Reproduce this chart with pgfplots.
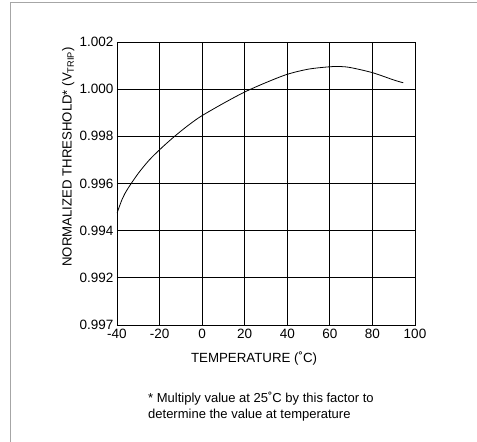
\documentclass[border=0pt]{standalone}
\usepackage{fontspec}
\setmainfont{Liberation Sans}
\usepackage{pgfplots}
\pgfplotsset{compat=1.18}
\begin{document}
\begin{tikzpicture}[x=1pt,y=1pt]
\useasboundingbox (0,0) rectangle (477,442);
% outer frame (top and left edges only are visible)
\draw[gray!70, line width=1pt] (10,0) -- (10,439) -- (477,439);
\begin{axis}[
  at={(117pt,117pt)}, anchor=south west,
  scale only axis, width=298pt, height=283pt,
  xmin=-40, xmax=100, ymin=0.990, ymax=1.002,
  xtick={-40,-20,0,20,40,60,80,100},
  xticklabels={-40,-20,0,20,40,60,80,100},
  ytick={0.990,0.992,0.994,0.996,0.998,1.000,1.002},
  yticklabels={0.997,0.992,0.994,0.996,0.998,1.000,1.002},
  grid=major, major grid style={black, line width=0.8pt},
  axis line style={black, line width=0.8pt},
  major tick length=0pt,
  tick label style={font=\fontsize{13.5}{15}\selectfont},
  xticklabel style={yshift=-1pt},
  xlabel={TEMPERATURE (˚C)},
  xlabel style={at={(axis description cs:0.46,-0.117)}, anchor=center, font=\fontsize{13.3}{15}\selectfont},
  ylabel={NORMALIZED THRESHOLD* (V\textsubscript{TRIP})},
  ylabel style={at={(axis description cs:-0.164,0.594)}, anchor=center, font=\fontsize{13.2}{15}\selectfont},
]
\addplot[black, line width=0.8pt, smooth, tension=0.5] coordinates {
  (-40,0.99474) (-37.5,0.99535) (-35,0.99577) (-30,0.99643) (-25,0.99698)
  (-20,0.99743) (-15,0.99784) (-10,0.99822) (-5,0.99857) (0,0.99888)
  (10,0.99940) (20,0.99988) (30,1.00028) (40,1.00063) (50,1.00085)
  (60,1.00095) (65,1.00096) (70,1.00091) (80,1.00070) (90,1.00039) (94.5,1.00027)
};
\end{axis}
\node[anchor=north west, align=left, inner sep=0pt, font=\fontsize{13}{16}\selectfont] at (148,50) {* Multiply value at 25˚C by this factor to\\determine the value at temperature};
\end{tikzpicture}
\end{document}
